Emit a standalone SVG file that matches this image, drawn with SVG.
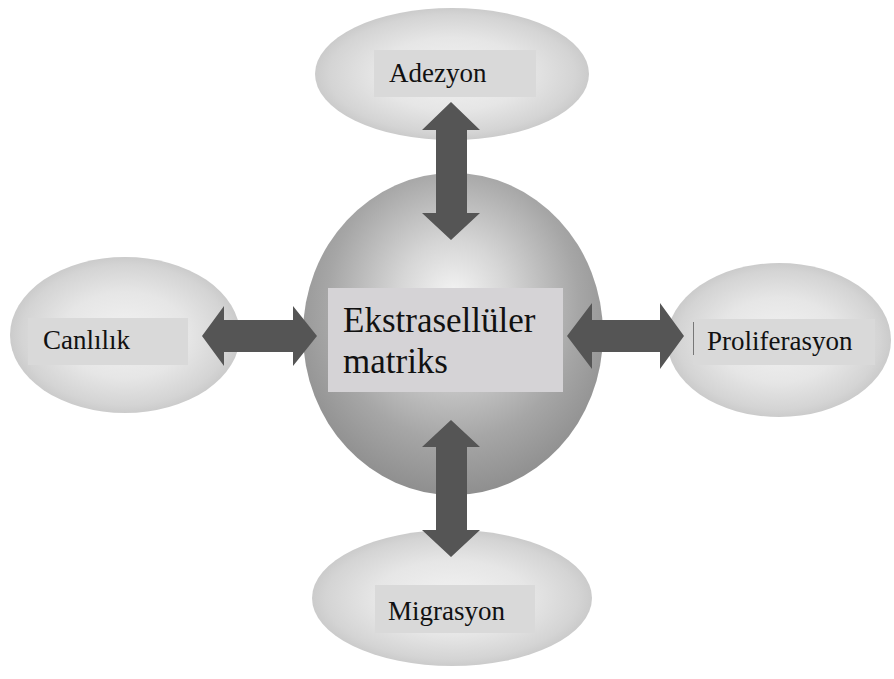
<svg xmlns="http://www.w3.org/2000/svg" width="894" height="679" viewBox="0 0 894 679">
<defs>
<radialGradient id="gEll" cx="50%" cy="50%" r="50%">
<stop offset="0%" stop-color="#f2f2f2"/>
<stop offset="55%" stop-color="#e6e6e6"/>
<stop offset="90%" stop-color="#d4d4d4"/>
<stop offset="100%" stop-color="#cbcbcb"/>
</radialGradient>
<radialGradient id="gSphere" cx="50%" cy="42%" r="60%" fx="50%" fy="38%">
<stop offset="0%" stop-color="#f4f4f4"/>
<stop offset="30%" stop-color="#d6d6d6"/>
<stop offset="70%" stop-color="#a6a6a6"/>
<stop offset="100%" stop-color="#8c8c8c"/>
</radialGradient>
<style>
.ell{fill:url(#gEll);}
.box{fill:#d9d9d9;}
.lbl{font-family:"Liberation Serif","Times New Roman",serif;font-size:27px;fill:#111;}
.big{font-family:"Liberation Serif","Times New Roman",serif;font-size:35px;fill:#111;}
.arr{fill:#555555;}
</style>
</defs>
<rect width="894" height="679" fill="#ffffff"/>
<g id="node-adezyon">
<ellipse class="ell" cx="452" cy="74" rx="137" ry="66"/>
<rect class="box" x="374" y="50" width="162" height="47"/>
<text class="lbl" x="389" y="82">Adezyon</text>
</g>
<g id="node-canlilik">
<ellipse class="ell" cx="125" cy="335" rx="115" ry="78"/>
<rect class="box" x="28" y="318" width="160" height="47"/>
<text class="lbl" x="43" y="349">Canlılık</text>
</g>
<g id="node-proliferasyon">
<ellipse class="ell" cx="779" cy="340" rx="112" ry="77"/>
<rect class="box" x="693" y="319" width="182" height="46"/>
<line x1="693.5" y1="322" x2="693.5" y2="355" stroke="#777" stroke-width="1"/>
<text class="lbl" x="707" y="350">Proliferasyon</text>
</g>
<g id="node-migrasyon">
<ellipse class="ell" cx="452" cy="598" rx="140" ry="68"/>
<rect class="box" x="375" y="585" width="160" height="48"/>
<text class="lbl" x="388" y="620">Migrasyon</text>
</g>
<g id="node-ekm">
<ellipse cx="453" cy="334" rx="150" ry="161" fill="url(#gSphere)"/>
<rect x="328" y="288" width="235" height="104" fill="#d5d3d6"/>
<text class="big" x="343" y="332">Ekstrasellüler</text>
<text class="big" x="343" y="373">matriks</text>
</g>
<g id="connectors">
<polygon class="arr" points="451,102 480,130 467,130 467,213 480,213 451,240 422,213 436,213 436,130 422,130"/>
<polygon class="arr" points="451,420 480,447 467,447 467,530 480,530 451,557 422,530 436,530 436,447 422,447"/>
<polygon class="arr" points="202,336 224,306 224,320 293,320 293,306 317,336 293,366 293,352 224,352 224,366"/>
<polygon class="arr" points="567,336 592,303 592,320 660,320 660,303 684,336 660,369 660,352 592,352 592,369"/>
</g>
</svg>
